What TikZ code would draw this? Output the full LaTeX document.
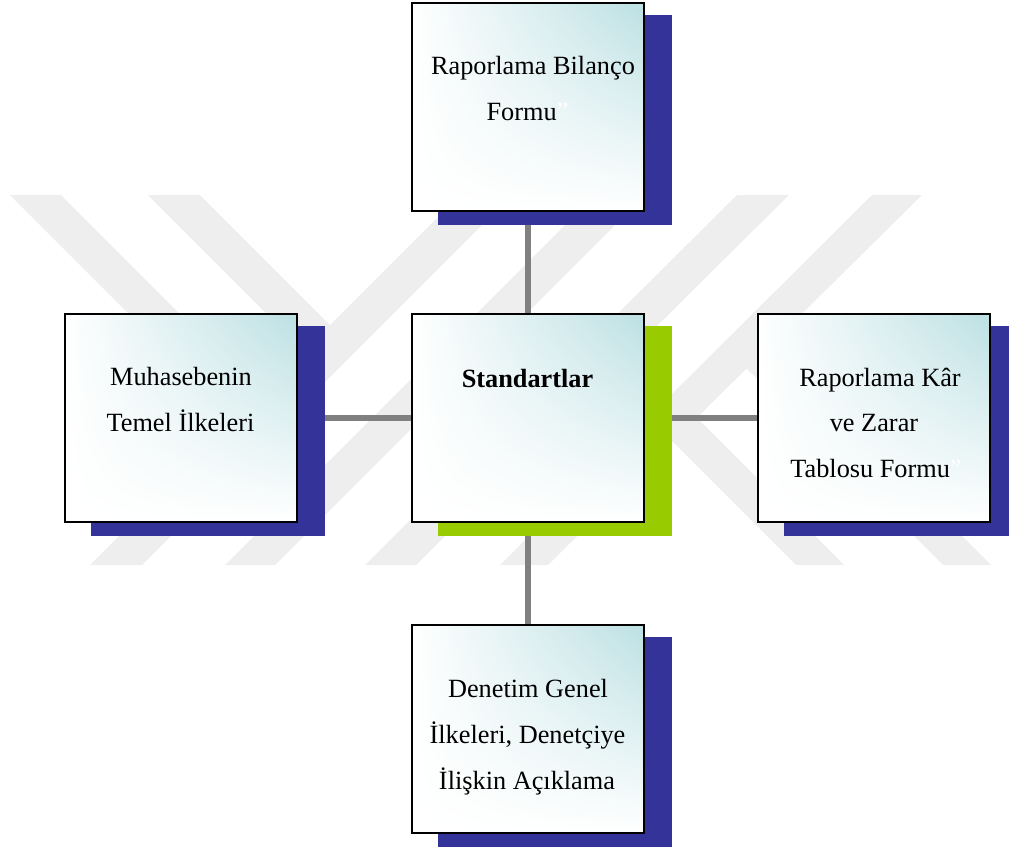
\documentclass[tikz,border=0pt]{standalone}
\usepackage{fontspec}
\setmainfont{Liberation Serif}
\usetikzlibrary{shadings}
\definecolor{shblue}{RGB}{51,51,153}
\definecolor{shgreen}{RGB}{153,204,0}
\definecolor{boxteal}{RGB}{188,224,227}
\definecolor{wmgray}{RGB}{238,238,238}
\definecolor{linegray}{RGB}{128,128,128}
\pgfdeclarelayer{wm}
\pgfdeclarelayer{bg}
\pgfsetlayers{wm,bg,main}
\tikzset{
  box/.style={rectangle, draw=black, line width=2.2pt, minimum width=232pt,
    minimum height=208pt, inner sep=0pt, shade, upper left=white,
    upper right=boxteal, lower left=white, lower right=white},
  txt/.style={anchor=base, inner sep=0pt, font=\fontsize{26.3}{46}\selectfont},
  conn/.style={draw=linegray, line width=5.5pt},
  band/.style={fill=wmgray},
}
\begin{document}
\begin{tikzpicture}[x=1pt,y=-1pt]
\useasboundingbox (0,0) rectangle (1009,846);
% watermark
\begin{pgfonlayer}{wm}
  \fill[band] (90,565) -- (142,565) -- (512,195) -- (460,195) -- cycle;
  \fill[band] (225,565) -- (275,565) -- (645,195) -- (595,195) -- cycle;
  \fill[band] (365,565) -- (416,565) -- (789,195) -- (737,195) -- cycle;
  \fill[band] (500,565) -- (548,565) -- (922,195) -- (872,195) -- cycle;
  \fill[band] (10,195) -- (61,195) -- (273.5,407.5) -- (253,438) -- cycle;
  \fill[band] (148,195) -- (200,195) -- (343,338) -- (317,364) -- cycle;
  \fill[band] (796,565) -- (844,565) -- (617,338) -- (593,362) -- cycle;
  \fill[band] (943,565) -- (991,565) -- (756,330) -- (732,354) -- cycle;
\end{pgfonlayer}
% boxes
\node[box] (top) at (528,107) {};
\node[box] (std) at (528,418) {};
\node[box] (lft) at (181,418) {};
\node[box] (rgt) at (874,418) {};
\node[box] (bot) at (528,729) {};
% connectors and shadows
\begin{pgfonlayer}{bg}
  \clip (0,0) rectangle (1009,846);
  \draw[conn] (top) -- (std);
  \draw[conn] (std) -- (bot);
  \draw[conn] (lft) -- (std);
  \draw[conn] (std) -- (rgt);
  \fill[shblue] ([shift={(27,13)}]top.south west) rectangle ([shift={(27,13)}]top.north east);
  \fill[shgreen] ([shift={(27,13)}]std.south west) rectangle ([shift={(27,13)}]std.north east);
  \fill[shblue] ([shift={(27,13)}]lft.south west) rectangle ([shift={(27,13)}]lft.north east);
  \fill[shblue] ([shift={(27,13)}]rgt.south west) rectangle ([shift={(27,13)}]rgt.north east);
  \fill[shblue] ([shift={(27,13)}]bot.south west) rectangle ([shift={(27,13)}]bot.north east);
\end{pgfonlayer}
% texts
\node[txt] (top1) at (533,74) {Raporlama Bilanço};
\node[txt] (top2) at (527.5,120.5) {Formu\textcolor{white}{”}};
\node[txt] (std1) at (527.5,387) {\bfseries Standartlar};
\node[txt] (lft1) at (181,385) {Muhasebenin};
\node[txt] (lft2) at (180.5,431.5) {Temel İlkeleri};
\node[txt] (rgt1) at (880,386) {Raporlama Kâr};
\node[txt] (rgt2) at (874,431) {ve Zarar};
\node[txt] (rgt3) at (876,477) {Tablosu Formu\textcolor{white}{”}};
\node[txt] (bot1) at (528,697) {Denetim Genel};
\node[txt] (bot2) at (527.5,743) {İlkeleri, Denetçiye};
\node[txt] (bot3) at (527,789) {İlişkin Açıklama};
\end{tikzpicture}
\end{document}
